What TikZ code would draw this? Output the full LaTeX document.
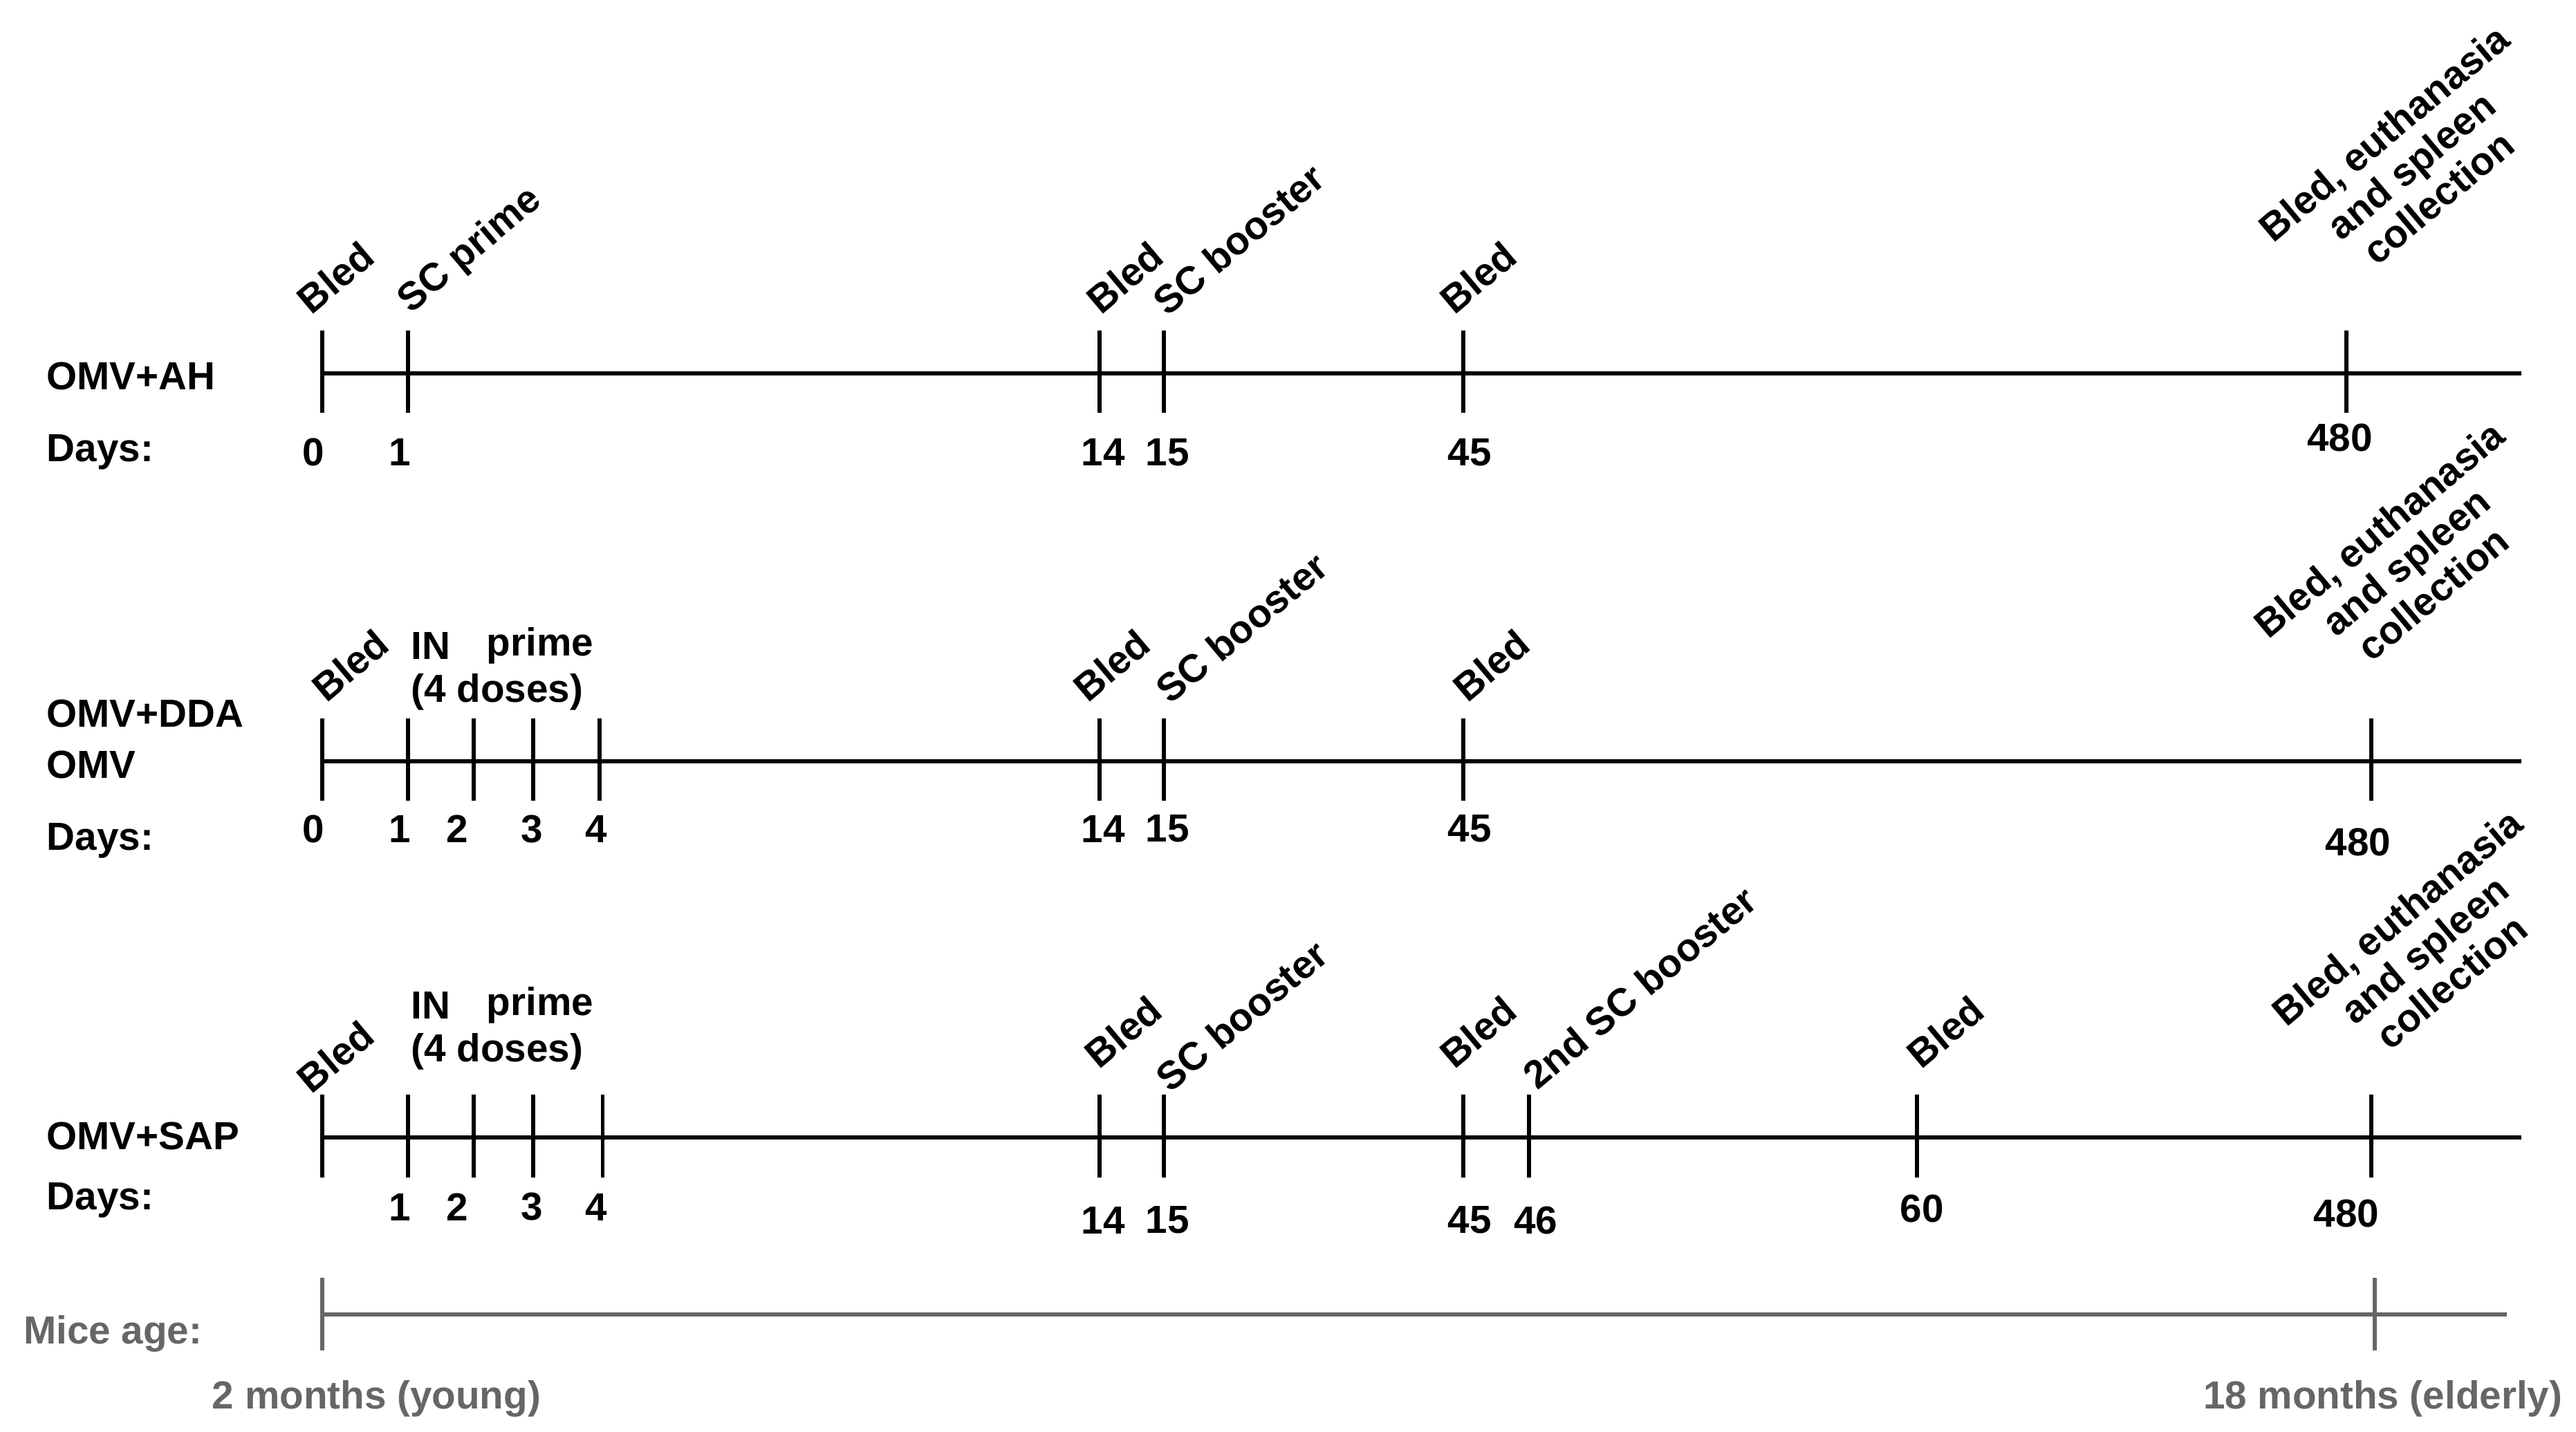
\documentclass[tikz,border=0pt]{standalone}
\usepackage{fontspec}
\setmainfont{Liberation Sans}
\begin{document}
\begin{tikzpicture}[x=0.02cm,y=-0.02cm,
 t/.style={font=\fontsize{13.5}{14.5}\selectfont\bfseries,inner sep=0pt},
 r/.style={t,rotate=40},
 ln/.style={line width=1.4pt},
 g/.style={line width=1.4pt,gray!80!black},
 gt/.style={t,text=gray!80!black}]
\useasboundingbox (0,0) rectangle (1560,867);
% row 1
\coordinate (a1) at (195,226); \coordinate (b1) at (1527,226);
\draw[ln] (a1) -- (b1);
\foreach \x in {195,247,666,705,886,1421} \draw[ln] (\x,200) -- (\x,250);
\node[t,anchor=west] (n1) at (28,228) {OMV+AH};
\node[t,anchor=west] (d1) at (28,274) {Days:};
\foreach \x/\l in {190/0,242/1,668/14,707/15,890/45} \node[t] at (\x,274) {\l};
\node[t] at (1417,265) {480};
\node[r] at (203,168) {Bled};
\node[r] at (285,152) {SC prime};
\node[r] at (681,168) {Bled};
\node[r] at (750,145) {SC booster};
\node[r] at (895,168) {Bled};
\node[r,align=center] at (1460,100) {Bled, euthanasia\\and spleen\\collection};
% row 2
\coordinate (a2) at (195,461); \coordinate (b2) at (1527,461);
\draw[ln] (a2) -- (b2);
\foreach \x in {195,247,287,323,363,666,705,886,1436} \draw[ln] (\x,435) -- (\x,485);
\node[t,anchor=west] at (28,432) {OMV+DDA};
\node[t,anchor=west] at (28,463) {OMV};
\node[t,anchor=west] at (28,509) {Days:};
\foreach \x/\l in {190/0,242/1,277/2,322/3,361/4,668/14,707/15,890/45} \node[t] at (\x,502) {\l};
\node[t] at (1428,510) {480};
\node[t] at (261,391) {IN};
\node[t] at (327,391) {prime};
\node[t] at (301,419) {(4 doses)};
\node[r] at (212,403) {Bled};
\node[r] at (673,403) {Bled};
\node[r] at (752,380) {SC booster};
\node[r] at (903,403) {Bled};
\node[r,align=center] at (1457,340) {Bled, euthanasia\\and spleen\\collection};
% row 3
\coordinate (a3) at (195,689); \coordinate (b3) at (1527,689);
\draw[ln] (a3) -- (b3);
\foreach \x in {195,247,287,323,365,666,705,886,926,1161,1436} \draw[ln] (\x,663) -- (\x,713);
\node[t,anchor=west] at (28,688) {OMV+SAP};
\node[t,anchor=west] at (28,727) {Days:};
\foreach \x/\l in {242/1,277/2,322/3,361/4} \node[t] at (\x,731) {\l};
\foreach \x/\l in {668/14,707/15,890/45,930/46} \node[t] at (\x,739) {\l};
\node[t] at (1164,732) {60};
\node[t] at (1421,735) {480};
\node[t] at (261,609) {IN};
\node[t] at (327,609) {prime};
\node[t] at (301,637) {(4 doses)};
\node[r] at (203,640) {Bled};
\node[r] at (680,625) {Bled};
\node[r] at (752,615) {SC booster};
\node[r] at (895,625) {Bled};
\node[r] at (993,598) {2nd SC booster};
\node[r] at (1178,625) {Bled};
\node[r,align=center] at (1468,575) {Bled, euthanasia\\and spleen\\collection};
% age
\coordinate (ga) at (195,796); \coordinate (gb) at (1518,796);
\draw[g] (ga) -- (gb);
\draw[g] (195,774) -- (195,818);
\draw[g] (1438,774) -- (1438,818);
\node[gt,anchor=west] at (14,808) {Mice age:};
\node[gt] at (228,847) {2 months (young)};
\node[gt] at (1443,847) {18 months (elderly)};
\end{tikzpicture}
\end{document}
